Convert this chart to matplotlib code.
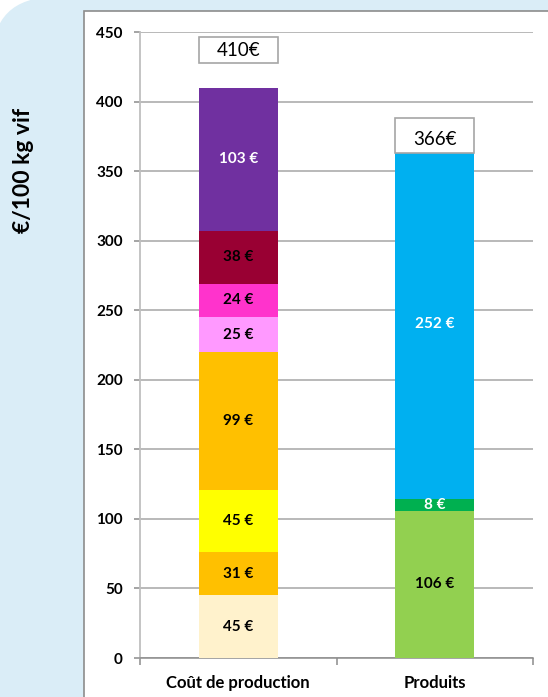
import numpy as np
import matplotlib
matplotlib.use("Agg")
import matplotlib.pyplot as plt
from matplotlib.patches import FancyBboxPatch, Rectangle

plt.rcParams["font.family"] = ["Lato", "DejaVu Sans"]

# data
categories = ["Coût de production", "Produits"]
cost_values = [45, 31, 45, 99, 25, 24, 38, 103]
cost_colors = ["#FFF2CC", "#FFC000", "#FFFF00", "#FFC000",
               "#FF99FF", "#FF33CC", "#990033", "#7030A0"]
cost_text = ["k", "k", "k", "k", "k", "k", "k", "w"]
prod_values = [106, 8, 252]
prod_colors = ["#92D050", "#00B050", "#00B0F0"]
prod_text = ["k", "w", "w"]
totals = [410, 366]
box_offsets = [27, 9.5]   # where the total boxes sit above the bar top
box_heights = [19, 25]

W, H = 548, 697
fig = plt.figure(figsize=(W / 100, H / 100), dpi=100)
fig.patch.set_facecolor("white")

# light blue rounded background + white panel (pixel coords)
bg = FancyBboxPatch((-8, -50), 700, H + 3 + 50,
                    boxstyle="round,pad=0,rounding_size=63",
                    transform=None, facecolor="#DAEDF7", edgecolor="none",
                    zorder=0)
fig.add_artist(bg)
panel = Rectangle((84, -5), 600, H - 11 + 5, transform=None,
                  facecolor="white", edgecolor="#8C8C8C", linewidth=1.2,
                  zorder=1)
fig.add_artist(panel)

ax = fig.add_axes([140 / W, 1 - 658 / H, 393 / W, 626 / H])
ax.set_facecolor("none")
ax.set_zorder(2)

bar_w = 0.4
stacks = [(cost_values, cost_colors, cost_text),
          (prod_values, prod_colors, prod_text)]
for i, (vals, cols, txt) in enumerate(stacks):
    bottom = 0
    for v, c, t in zip(vals, cols, txt):
        ax.bar(i, v, bottom=bottom, width=bar_w, color=c, edgecolor="none",
               zorder=3)
        ax.text(i, bottom + v / 2, f"{v} €", ha="center", va="center",
                fontsize=11, fontweight="bold",
                color="white" if t == "w" else "black", zorder=4)
        bottom += v

for i, tot in enumerate(totals):
    yc = tot + box_offsets[i]
    ax.add_patch(Rectangle((i - 0.2, yc - box_heights[i] / 2), 0.4,
                           box_heights[i], facecolor="white",
                           edgecolor="#A6A6A6", linewidth=1.2, zorder=5))
    ax.text(i, yc - (0 if i == 0 else 3), f"{tot}€", ha="center",
            va="center", fontsize=13.5, zorder=6)

ax.set_xlim(-0.5, 1.5)
ax.set_ylim(0, 450)
ax.set_yticks(np.arange(0, 451, 50))
ax.grid(axis="y", color="#A6A6A6", linewidth=1.1, zorder=1)
ax.set_axisbelow(True)

ax.set_xticks([-0.5, 0.5, 1.5])
ax.set_xticklabels([])
ax.set_xticks([0, 1], minor=True)
ax.set_xticklabels(categories, minor=True, fontsize=12, fontweight="bold")
ax.tick_params(axis="x", which="minor", length=0, pad=12)
ax.tick_params(axis="x", which="major", length=5, color="#8C8C8C",
               width=1.1)
ax.tick_params(axis="y", length=4.5, color="#8C8C8C", width=1.1, pad=8,
               labelsize=11)
for lab in ax.get_yticklabels():
    lab.set_fontweight("bold")

for s in ["top", "right"]:
    ax.spines[s].set_visible(False)
ax.spines["left"].set_color("#BFBFBF")
ax.spines["left"].set_linewidth(1.3)
ax.spines["bottom"].set_color("#8C8C8C")
ax.spines["bottom"].set_linewidth(1.1)

fig.text(24 / W, 1 - 170 / H, "€/100 kg vif", rotation=90, ha="center",
         va="center", fontsize=16.5, fontweight="bold")

fig.savefig("out.png", dpi=100)
